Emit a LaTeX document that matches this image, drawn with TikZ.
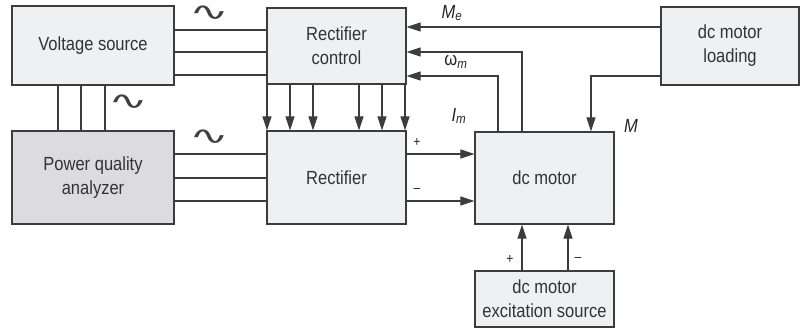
\documentclass[tikz,border=0pt]{standalone}
\usepackage{fontspec}
\setmainfont{Liberation Sans}[FakeStretch=0.87]
\newfontfamily\symfont{DejaVu Sans}[FakeStretch=1.9]
\usetikzlibrary{arrows.meta}

\definecolor{boxfill}{RGB}{239,240,242}
\definecolor{pqafill}{RGB}{220,220,222}
\definecolor{wiregray}{RGB}{60,60,60}

\begin{document}
\begin{tikzpicture}[x=1pt, y=-1pt,
  block/.style={draw=wiregray, line width=1.2pt, fill=boxfill, align=center,
                inner sep=0pt, text=black!80, font=\fontsize{19}{24}\selectfont},
  link/.style={wiregray, line width=1.1pt},
  feed/.style={link, -{Triangle[length=14pt, width=9pt]}},
  tag/.style={font=\fontsize{19}{20}\selectfont\itshape, text=black!85},
  sign/.style={font=\fontsize{14}{14}\selectfont, text=black!85},
  wave/.style={font=\symfont\fontsize{25}{25}\selectfont, text=black!75}
]
  \useasboundingbox (0,0) rectangle (800,331);

  % Blocks
  \node[block, minimum width=162pt, minimum height=79pt] (vs)   at (93,45.5)   {Voltage source};
  \node[block, minimum width=139pt, minimum height=76pt] (rc)   at (336.5,46)  {Rectifier\\control};
  \node[block, minimum width=162pt, minimum height=93pt, fill=pqafill] (pqa) at (93,177.5) {Power quality\\analyzer};
  \node[block, minimum width=139pt, minimum height=93pt] (rect) at (336.5,177.5) {Rectifier};
  \node[block, minimum width=139pt, minimum height=92pt] (mot)  at (544.5,178) {dc motor};
  \node[block, minimum width=139pt, minimum height=56pt] (exc)  at (544.5,299) {dc motor\\excitation source};
  \node[block, minimum width=138pt, minimum height=78pt] (load) at (730,46)    {dc motor\\loading};

  % Three-phase supply lines
  \foreach \y in {30,52,75}
    \draw[link] (vs.east |- 0,\y) -- (rc.west |- 0,\y);
  \foreach \x in {58,81,105}
    \draw[link] (vs.south -| \x,0) -- (pqa.north -| \x,0);
  \foreach \y in {154,178,201}
    \draw[link] (pqa.east |- 0,\y) -- (rect.west |- 0,\y);
  \node[wave] (w1) at (209,13)  {∿};
  \node[wave] (w2) at (128,102) {∿};
  \node[wave] (w3) at (209,137) {∿};

  % Firing pulses
  \foreach \x in {267,290,313,359,382,405}
    \draw[feed] (rc.south -| \x,0) -- (rect.north -| \x,0);

  % Armature supply
  \draw[feed] (rect.east |- 0,154) -- (mot.west |- 0,154);
  \draw[feed] (rect.east |- 0,201) -- (mot.west |- 0,201);
  \node[sign] (ap) at (417,142) {+};
  \node[sign] (am) at (417,190) {--};

  % Feedback signals
  \draw[feed] (load.west |- 0,27) -- (rc.east |- 0,27);
  \draw[feed] (mot.north -| 522,0) |- (rc.east |- 0,52);
  \draw[feed] (mot.north -| 498,0) |- (rc.east |- 0,76);
  \node[tag] (me) at (452,13)  {M\textsubscript{e}};
  \node[tag] (wm) at (456,62)  {\upshape ω\textsubscript{\itshape m}};
  \node[tag] (im) at (459,116) {I\textsubscript{m}};

  % Load torque
  \draw[feed] (load.west |- 0,76) -| (mot.north -| 591,0);
  \node[tag] (mm) at (631,126) {M};

  % Field excitation
  \draw[feed] (exc.north -| 522,0) -- (mot.south -| 522,0);
  \draw[feed] (exc.north -| 568,0) -- (mot.south -| 568,0);
  \node[sign] (ep) at (510,259) {+};
  \node[sign] (em) at (578,259) {--};
\end{tikzpicture}
\end{document}
